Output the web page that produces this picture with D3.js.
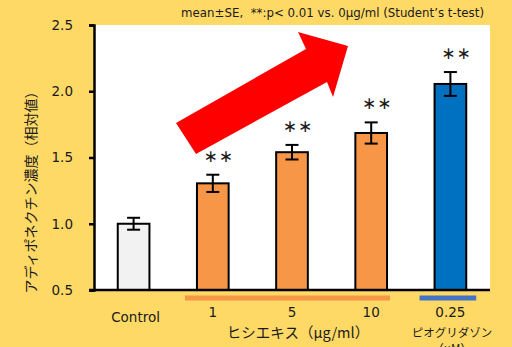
<!DOCTYPE html>
<html>
<head>
<meta charset="utf-8">
<script src="https://cdn.jsdelivr.net/npm/d3@7"></script>
<style>
  html, body { margin: 0; padding: 0; background: #FFD966; }
  svg { display: block; }
  text { font-family: "DejaVu Sans", "Noto Sans CJK JP", sans-serif; fill: #1a1a1a; }
  .jp { font-family: "Noto Sans CJK JP", "DejaVu Sans", sans-serif; }
</style>
</head>
<body>
<svg id="chart" width="512" height="347"></svg>
<script>
// Adiponectin concentration (relative), mean ± SE
const categories = ["Control", "1", "5", "10", "0.25"];
const means = [1.00, 1.305, 1.54, 1.685, 2.055];
const errors = [0.045, 0.065, 0.055, 0.08, 0.09];
const significant = [false, true, true, true, true];
const barFills = ["#F2F2F2", "#F79646", "#F79646", "#F79646", "#0070C0"];
const yTicks = [0.5, 1.0, 1.5, 2.0, 2.5];

const svg = d3.select("#chart");
const plot = { left: 94, right: 490, top: 25, bottom: 290 };

const x = d3.scaleBand()
  .domain(categories)
  .range([plot.left, plot.right])
  .paddingInner(0.6)
  .paddingOuter(0.3);

const y = d3.scaleLinear()
  .domain([0.5, 2.5])
  .range([plot.bottom, plot.top]);

// white plot background
svg.append("rect")
  .attr("x", plot.left).attr("y", plot.top)
  .attr("width", plot.right - plot.left)
  .attr("height", plot.bottom - plot.top)
  .attr("fill", "#FFFFFF");

// trend arrow
const arrowPts = [[176, 123], [306, 49], [298, 32], [348, 46], [333, 97], [327, 82], [196, 154]];
svg.append("polygon")
  .attr("points", arrowPts.map(p => p.join(",")).join(" "))
  .attr("fill", "#FF0000");

// bars
svg.append("g").selectAll("rect")
  .data(categories)
  .join("rect")
  .attr("x", d => x(d))
  .attr("y", (d, i) => y(means[i]))
  .attr("width", x.bandwidth())
  .attr("height", (d, i) => y(0.5) - y(means[i]))
  .attr("fill", (d, i) => barFills[i])
  .attr("stroke", "#000")
  .attr("stroke-width", 2);

// error bars
const eb = svg.append("g").attr("stroke", "#000").attr("stroke-width", 2);
categories.forEach((c, i) => {
  const cx = x(c) + x.bandwidth() / 2;
  const hi = y(means[i] + errors[i]);
  const lo = y(means[i] - errors[i]);
  eb.append("line").attr("x1", cx).attr("x2", cx).attr("y1", hi).attr("y2", lo);
  eb.append("line").attr("x1", cx - 6.5).attr("x2", cx + 6.5).attr("y1", hi).attr("y2", hi);
  eb.append("line").attr("x1", cx - 6.5).attr("x2", cx + 6.5).attr("y1", lo).attr("y2", lo);
});

// significance marks
svg.append("g").selectAll("text")
  .data(categories.filter((c, i) => significant[i]))
  .join("text")
  .attr("x", d => x(d) + x.bandwidth() / 2 + 6)
  .attr("y", d => y(means[categories.indexOf(d)] + errors[categories.indexOf(d)]) - 13)
  .attr("text-anchor", "middle")
  .attr("font-family", "DejaVu Sans")
  .attr("font-size", 17)
  .attr("letter-spacing", 1)
  .text("\u2217\u2217");

// y axis
const yAxis = d3.axisLeft(y).tickValues(yTicks).tickFormat(d3.format(".1f")).tickSize(5).tickPadding(16);
const gy = svg.append("g").attr("transform", `translate(${plot.left},0)`).call(yAxis);
gy.select(".domain").attr("stroke", "#000").attr("stroke-width", 2.5);
gy.selectAll(".tick line").attr("stroke", "#000").attr("stroke-width", 2.5);
gy.selectAll(".tick text").attr("font-size", 13.5).attr("fill", "#1a1a1a")
  .attr("font-family", "DejaVu Sans");

// x baseline
svg.append("line")
  .attr("x1", plot.left - 5).attr("x2", plot.right)
  .attr("y1", plot.bottom).attr("y2", plot.bottom)
  .attr("stroke", "#000").attr("stroke-width", 2.5);

// category labels
svg.append("g").selectAll("text")
  .data(categories)
  .join("text")
  .attr("x", d => x(d) + x.bandwidth() / 2 + (d === "Control" ? 2 : 0))
  .attr("y", (d, i) => i === 0 ? 322 : 317)
  .attr("text-anchor", "middle")
  .attr("font-size", 13.5)
  .text(d => d);

// group underlines
svg.append("line")
  .attr("x1", 185).attr("x2", x("10") + x.bandwidth() + 3)
  .attr("y1", 298).attr("y2", 298)
  .attr("stroke", "#F79646").attr("stroke-width", 5);
svg.append("line")
  .attr("x1", x("0.25") - 15).attr("x2", x("0.25") + x.bandwidth() + 10)
  .attr("y1", 298).attr("y2", 298)
  .attr("stroke", "#4472C4").attr("stroke-width", 5);

// group titles
svg.append("text").attr("class", "jp")
  .attr("x", 298).attr("y", 338)
  .attr("text-anchor", "middle").attr("font-size", 14.5)
  .text("ヒシエキス（μg/ml）");
svg.append("text").attr("class", "jp")
  .attr("x", 452).attr("y", 337)
  .attr("text-anchor", "middle").attr("font-size", 11.5)
  .text("ピオグリダゾン");
svg.append("text").attr("class", "jp")
  .attr("x", 452).attr("y", 353)
  .attr("text-anchor", "middle").attr("font-size", 11.5)
  .text("（μM）");

// y axis title
svg.append("text").attr("class", "jp")
  .attr("transform", "translate(36,189) rotate(-90)")
  .attr("text-anchor", "middle").attr("font-size", 14)
  .text("アディポネクチン濃度（相対値）");

// note
svg.append("text")
  .attr("x", 484).attr("y", 17)
  .attr("text-anchor", "end").attr("font-size", 11.8)
  .attr("xml:space", "preserve")
  .text("mean±SE,  **:p< 0.01 vs. 0μg/ml (Student’s t-test)");
</script>
</body>
</html>
